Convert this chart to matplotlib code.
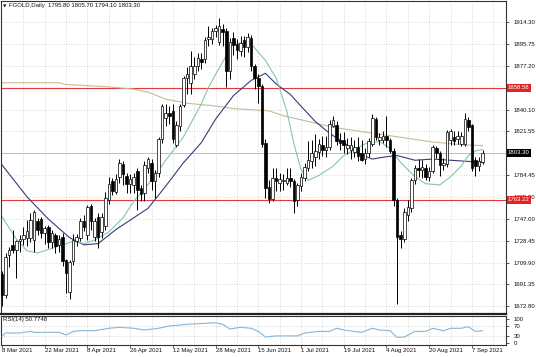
import matplotlib
matplotlib.use('Agg')
import matplotlib.pyplot as plt
import numpy as np
from matplotlib.transforms import blended_transform_factory

plt.rcParams['font.family'] = ['Liberation Sans', 'DejaVu Sans']

# ---------------- data ----------------
symbol = 'FGOLD,Daily'

opens = [1700, 1682, 1716, 1725, 1721, 1728, 1730, 1731, 1731, 1729,
         1745, 1747, 1735, 1740, 1727, 1733, 1725, 1732, 1712, 1685,
         1711, 1728, 1731, 1745, 1733, 1758, 1732, 1749, 1736, 1741,
         1763, 1779, 1770, 1783, 1794, 1784, 1777, 1776, 1788, 1773,
         1769, 1790, 1795, 1779, 1786, 1815, 1833, 1837, 1839, 1810,
         1826, 1844, 1867, 1863, 1870, 1877, 1883, 1883, 1900, 1900,
         1907, 1898, 1909, 1907, 1873, 1901, 1896, 1890, 1899, 1893,
         1901, 1877, 1867, 1860, 1812, 1774, 1764, 1782, 1778, 1779,
         1778, 1782, 1779, 1763, 1775, 1782, 1790, 1796, 1800, 1804,
         1810, 1806, 1808, 1826, 1827, 1814, 1814, 1807, 1806, 1804,
         1808, 1803, 1798, 1803, 1811, 1832, 1814, 1814, 1818, 1814,
         1805, 1763, 1733, 1730, 1750, 1756, 1780, 1790, 1789, 1790,
         1783, 1788, 1807, 1803, 1793, 1794, 1814, 1817, 1815, 1811,
         1811, 1831, 1827, 1797, 1792, 1795.80]
highs = [1703, 1718, 1723, 1738, 1729, 1733, 1740, 1746, 1752, 1755,
         1748, 1749, 1741, 1742, 1738, 1735, 1733, 1735, 1713, 1712,
         1734, 1734, 1748, 1750, 1759, 1760, 1748, 1752, 1752, 1770,
         1783, 1782, 1785, 1798, 1796, 1786, 1785, 1786, 1790, 1776,
         1796, 1800, 1798, 1789, 1817, 1845, 1845, 1843, 1845, 1830,
         1845, 1869, 1876, 1890, 1885, 1888, 1888, 1902, 1911, 1910,
         1912, 1918, 1913, 1910, 1901, 1906, 1900, 1903, 1903, 1905,
         1904, 1879, 1870, 1862, 1815, 1780, 1790, 1790, 1786, 1785,
         1790, 1790, 1781, 1778, 1786, 1795, 1813, 1814, 1819, 1815,
         1818, 1818, 1831, 1835, 1830, 1820, 1821, 1816, 1817, 1814,
         1817, 1814, 1807, 1816, 1836, 1834, 1820, 1822, 1835, 1816,
         1807, 1765, 1737, 1756, 1763, 1782, 1793, 1798, 1797, 1794,
         1791, 1810, 1809, 1805, 1799, 1823, 1824, 1822, 1822, 1821,
         1837, 1834, 1828, 1800, 1800, 1805.70]
lows = [1673, 1680, 1706, 1718, 1697, 1719, 1725, 1724, 1727, 1719,
        1733, 1731, 1726, 1722, 1722, 1718, 1719, 1707, 1684, 1679,
        1708, 1724, 1728, 1737, 1729, 1738, 1728, 1722, 1731, 1738,
        1760, 1767, 1768, 1778, 1776, 1769, 1769, 1769, 1755, 1762,
        1762, 1786, 1772, 1765, 1783, 1812, 1826, 1828, 1812, 1808,
        1822, 1842, 1853, 1853, 1866, 1873, 1875, 1880, 1894, 1896,
        1902, 1895, 1894, 1859, 1866, 1887, 1883, 1886, 1885, 1889,
        1873, 1858, 1846, 1808, 1765, 1761, 1762, 1771, 1771, 1772,
        1776, 1774, 1752, 1758, 1771, 1779, 1788, 1790, 1792, 1798,
        1801, 1800, 1806, 1825, 1810, 1806, 1803, 1802, 1798, 1800,
        1796, 1796, 1794, 1800, 1809, 1814, 1810, 1812, 1808, 1803,
        1758, 1675, 1722, 1727, 1745, 1753, 1777, 1783, 1782, 1780,
        1779, 1786, 1799, 1784, 1789, 1791, 1810, 1810, 1811, 1809,
        1809, 1822, 1788, 1784, 1788, 1794.10]
closes = [1682, 1715, 1721, 1721, 1728, 1730, 1733, 1737, 1746, 1753,
          1738, 1735, 1739, 1727, 1735, 1724, 1730, 1711, 1701, 1710,
          1729, 1732, 1745, 1740, 1757, 1745, 1745, 1732, 1749, 1765,
          1777, 1771, 1781, 1795, 1785, 1777, 1781, 1783, 1772, 1768,
          1793, 1798, 1779, 1786, 1815, 1843, 1837, 1835, 1815, 1827,
          1843, 1867, 1870, 1877, 1877, 1884, 1881, 1899, 1902, 1907,
          1910, 1911, 1906, 1873, 1898, 1895, 1891, 1897, 1893, 1902,
          1877, 1867, 1860, 1811, 1773, 1764, 1782, 1779, 1781, 1780,
          1782, 1779, 1762, 1776, 1783, 1791, 1797, 1803, 1805, 1811,
          1806, 1808, 1828, 1831, 1813, 1812, 1810, 1810, 1810, 1808,
          1801, 1797, 1803, 1813, 1833, 1817, 1817, 1818, 1814, 1805,
          1763, 1732, 1730, 1753, 1757, 1780, 1790, 1789, 1791, 1783,
          1788, 1808, 1803, 1793, 1795, 1821, 1822, 1813, 1818, 1818,
          1832, 1825, 1790, 1792, 1796, 1803.30]

fast_ma_idx = [0, 4, 7, 10, 13, 16, 20, 23, 26, 30, 34, 37, 42, 46, 51, 56,
               58, 60, 65, 70, 74, 77, 80, 82, 84, 86, 89, 93, 96, 102, 106,
               109, 112, 116, 119, 123, 126, 129, 131, 133, 135]
fast_ma_val = [1749, 1730, 1720, 1718, 1721, 1724, 1728, 1726, 1729, 1736,
               1748, 1762, 1780, 1797, 1817, 1845, 1859, 1870, 1897, 1896,
               1882, 1867, 1839, 1811, 1789, 1780, 1784, 1792, 1801, 1811,
               1813, 1807, 1795, 1783, 1777, 1776, 1783, 1792, 1801, 1805,
               1806]

mid_ma_idx = [0, 7, 13, 19, 23, 27, 32, 37, 41, 46, 51, 56, 60, 65, 70, 74,
              77, 81, 84, 88, 92, 96, 100, 104, 108, 111, 116, 121, 126, 131,
              135]
mid_ma_val = [1793, 1766, 1747, 1731, 1725, 1726, 1738, 1748, 1756, 1775,
              1795, 1812, 1832, 1852, 1865, 1871, 1862, 1853, 1843, 1830,
              1820, 1812, 1803, 1798, 1800, 1801, 1797, 1798, 1797, 1796,
              1795]

slow_ma_idx = [0, 16, 18, 30, 37, 41, 46, 52, 59, 65, 75, 79, 86, 93, 102,
               111, 121, 130, 135]
slow_ma_val = [1863, 1863, 1861.5, 1859.5, 1857.5, 1855, 1849, 1845.5,
               1843.5, 1841, 1839, 1835, 1830, 1825, 1821, 1817, 1812.5,
               1810, 1809.5]

rsi_idx = [0, 1, 5, 8, 9, 16, 18, 20, 22, 26, 30, 33, 37, 40, 44, 47, 52,
           60, 62, 64, 67, 70, 72, 74, 77, 83, 85, 89, 92, 94, 96, 101, 104,
           106, 109, 111, 113, 116, 119, 121, 124, 126, 129, 131, 133, 135]
rsi_val = [27, 41, 41, 47.7, 43.5, 44, 32.5, 47.7, 50.6, 50.6, 60.8, 65,
           60.8, 53.6, 60.8, 70.5, 77.6, 84.4, 77.6, 57.8, 65, 60.8, 47.7,
           24, 28.7, 28.7, 40.9, 47.7, 47.7, 60.8, 53.6, 43.5, 60.8, 53.6,
           50.6, 22.4, 23.8, 47.7, 47.7, 60.8, 50.6, 60.8, 60.8, 67.6, 47.7,
           50.77]
rsi_last_text = '50.7748'

date_tick_idx = [0, 12, 24, 36, 48, 60, 72, 84, 96, 108, 120, 132]
date_labels = ['8 Mar 2021', '22 Mar 2021', '8 Apr 2021', '26 Apr 2021',
               '12 May 2021', '28 May 2021', '15 Jun 2021', '1 Jul 2021',
               '19 Jul 2021', '4 Aug 2021', '20 Aug 2021', '7 Sep 2021']

price_tick_labels = ['1914.30', '1895.75', '1877.20', '1840.10', '1821.55',
                     '1784.45', '1765.90', '1747.00', '1728.45', '1709.90',
                     '1691.35', '1672.80']
level_lines = [1858.58, 1763.22]
current_price = 1803.30
rsi_tick_labels = ['100', '70', '30', '0']

# ---------------- layout ----------------
W, H = 536, 357
fig = plt.figure(figsize=(W / 100, H / 100), dpi=100)
fig.patch.set_facecolor('white')


def fx(px):
    return px / W


def fy(py):
    return 1 - py / H


ax = fig.add_axes([fx(1), fy(314), fx(506) - fx(1), fy(0.5) - fy(314)])
rx = fig.add_axes([fx(1), fy(344.5), fx(506) - fx(1), fy(316) - fy(344.5)])

SP = 3.56  # pixels per bar
x_lo = (1 - 2) / SP
x_hi = (506 - 2) / SP
y_top = 1914.30 + 22 * 0.85
y_bot = 1914.30 - (314 - 22) * 0.85

FS = 4.3
grid_kw = dict(color='#c9c9c9', lw=0.6, ls=(0, (1, 2)), zorder=0)

# ---------------- main panel ----------------
n = len(opens)
xs = np.arange(n)
o = np.array(opens, float)
h = np.array(highs, float)
l = np.array(lows, float)
c = np.array(closes, float)

for gx in range(6, n + 8, 6):
    ax.axvline(gx, **grid_kw)
    rx.axvline(gx, **grid_kw)
tick_vals = [float(t) for t in price_tick_labels]
for v in tick_vals:
    ax.axhline(v, **grid_kw)

ax.plot(xs[[0, -1]] * 0 + [x_lo, x_hi], [current_price] * 2,
        color='#b4b4b4', lw=0.6, zorder=1)
for lv in level_lines:
    ax.axhline(lv, color='#e03a3a', lw=0.8, zorder=1)

ax.plot(slow_ma_idx, slow_ma_val, color='#c9b99b', lw=0.8, zorder=2)
ax.plot(mid_ma_idx, mid_ma_val, color='#3b3b78', lw=0.8, zorder=2)
ax.plot(fast_ma_idx, fast_ma_val, color='#86c4b6', lw=0.8, zorder=2)

ax.vlines(xs, l, h, color='black', lw=0.7, zorder=3)
bottoms = np.minimum(o, c)
heights = np.maximum(np.abs(c - o), 0.4)
cols = ['white' if cc >= oo else 'black' for oo, cc in zip(o, c)]
ax.bar(xs, heights, bottom=bottoms, width=0.72, color=cols,
       edgecolor='black', linewidth=0.5, zorder=4)

ax.set_xlim(x_lo, x_hi)
ax.set_ylim(y_bot, y_top)
ax.set_xticks([])
ax.yaxis.tick_right()
ax.set_yticks(tick_vals)
ax.set_yticklabels(price_tick_labels)
ax.tick_params(axis='y', right=True, left=False, labelright=True,
               labelleft=False, length=2, width=0.5, pad=3.5,
               labelsize=FS, colors='#111111')
for s in ax.spines.values():
    s.set_color('#333333')
    s.set_linewidth(0.8)
ax.spines['bottom'].set_linewidth(1.6)
ax.spines['bottom'].set_color('#222222')

bt = blended_transform_factory(ax.transAxes, ax.transData)
for lv in level_lines:
    ax.text(1.004, lv, f'{lv:.2f}', transform=bt, ha='left', va='center',
            fontsize=FS, color='white', clip_on=False, zorder=10,
            bbox=dict(facecolor='#e02424', edgecolor='none', pad=0.9))
ax.text(1.004, current_price, f'{current_price:.2f}', transform=bt,
        ha='left', va='center', fontsize=FS, color='white', clip_on=False,
        zorder=10, bbox=dict(facecolor='black', edgecolor='none', pad=0.9))

header = (f'{symbol}  {opens[-1]:.2f} {highs[-1]:.2f} '
          f'{lows[-1]:.2f} {closes[-1]:.2f}')
fig.text(fx(9), fy(6), header, fontsize=FS, ha='left', va='center',
         color='#111111')
fig.text(fx(3.2), fy(6), '\u25BC', fontsize=3.2, ha='left', va='center',
         color='#111111', family=['DejaVu Sans'])

# ---------------- RSI panel ----------------
rsi_levels = [float(t) for t in rsi_tick_labels]
for lv in (30, 70):
    rx.axhline(lv, **grid_kw)
rx.plot(rsi_idx, rsi_val, color='#87b6d8', lw=0.8, zorder=3)
rx.set_xlim(x_lo, x_hi)
rx.set_ylim(-7.6, 112.7)
rx.yaxis.tick_right()
rx.set_yticks(rsi_levels)
rx.set_yticklabels(rsi_tick_labels)
rx.tick_params(axis='y', right=True, left=False, labelright=True,
               labelleft=False, length=2, width=0.5, pad=3.5,
               labelsize=FS, colors='#111111')
rx.set_xticks(date_tick_idx)
rx.set_xticklabels([''] * len(date_tick_idx))
rx.tick_params(axis='x', length=2, width=0.5, direction='out',
               colors='#333333')
for s in rx.spines.values():
    s.set_color('#333333')
    s.set_linewidth(0.8)
rx.text(0.004, 0.86, f'RSI(14) {rsi_last_text}', transform=rx.transAxes,
        fontsize=FS, ha='left', va='center', color='#111111')

dt = blended_transform_factory(rx.transData, fig.transFigure)
for i, lab in zip(date_tick_idx, date_labels):
    fig.text(i, fy(350.5), lab, transform=dt, fontsize=FS, ha='left',
             va='center', color='#111111')

fig.savefig('out.png', dpi=100)
